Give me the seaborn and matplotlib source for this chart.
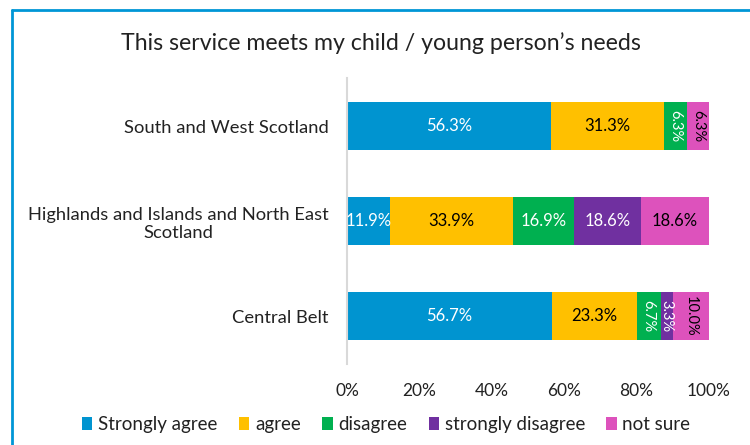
import matplotlib
matplotlib.use("Agg")
import matplotlib.pyplot as plt
from matplotlib.patches import Patch
from matplotlib.lines import Line2D
import seaborn as sns
import pandas as pd
import numpy as np

# Survey responses by region (percent of respondents)
regions = ["South and West Scotland",
           "Highlands and Islands and North East\nScotland",
           "Central Belt"]
responses = ["Strongly agree", "agree", "disagree", "strongly disagree", "not sure"]
strongly_agree = [56.3, 11.9, 56.7]
agree = [31.3, 33.9, 23.3]
disagree = [6.3, 16.9, 6.7]
strongly_disagree = [0.0, 18.6, 3.3]
not_sure = [6.3, 18.6, 10.0]

colors = ["#0094D0", "#FFC000", "#00B050", "#7030A0", "#DD52BC"]
text_colors = ["white", "black", "white", "white", "black"]

sns.set_theme(style="white")
plt.rcParams["font.family"] = ["Lato", "DejaVu Sans"]

series = [strongly_agree, agree, disagree, strongly_disagree, not_sure]
values = np.array(series)              # shape (responses, regions)
cumulative = np.cumsum(values, axis=0)
starts = cumulative - values

fig = plt.figure(figsize=(7.5, 4.45), dpi=100)
ax = fig.add_axes([0.4627, 0.183, 0.4826, 0.6406])

# Stacked bars: draw running totals from the last segment back to the first
for i in range(len(responses) - 1, -1, -1):
    df = pd.DataFrame({"region": regions, "total": cumulative[i]})
    sns.barplot(data=df, x="total", y="region", orient="h", color=colors[i],
                width=0.505, saturation=1, ax=ax, edgecolor="none")

# Segment value labels; narrow segments get vertical text
for i in range(len(responses)):
    for j in range(len(regions)):
        v = values[i, j]
        if v <= 0:
            continue
        x = starts[i, j] + v / 2
        narrow = v < 11
        ax.text(x, j, f"{v:.1f}%", ha="center", va="center",
                rotation=-90 if narrow else 0,
                color=text_colors[i], fontsize=10.5 if narrow else 12)

ax.set_xlim(0, 100)
ax.set_ylim(2.5, -0.5)
ax.set_xticks([0, 20, 40, 60, 80, 100])
ax.set_xticklabels([f"{t}%" for t in [0, 20, 40, 60, 80, 100]], fontsize=12.5,
                   color="#222222")
ax.tick_params(axis="x", pad=14, length=0)
ax.tick_params(axis="y", pad=13, length=0, labelsize=13.2, labelcolor="#222222")
for lbl in ax.get_yticklabels():
    lbl.set_multialignment("center")
ax.set_xlabel("")
ax.set_ylabel("")
for side in ["top", "right", "bottom"]:
    ax.spines[side].set_visible(False)
ax.spines["left"].set_color("#D9D9D9")
ax.spines["left"].set_linewidth(1.5)

fig.text(0.508, 0.903, "This service meets my child / young person\u2019s needs",
         ha="center", va="center", fontsize=16.7, color="#222222")

handles = [Patch(facecolor=c, edgecolor="none") for c in colors]
fig.legend(handles, responses, loc="center", bbox_to_anchor=(0.515, 0.045),
           ncol=5, frameon=False, fontsize=13.5, handlelength=0.55,
           handleheight=0.7, handletextpad=0.3, columnspacing=1.15,
           labelcolor="#222222")

# Blue frame along the top and left edges
fig.add_artist(Line2D([12 / 750, 1.0], [1 - 10 / 445, 1 - 10 / 445],
                      transform=fig.transFigure, color="#0096D6", lw=2))
fig.add_artist(Line2D([12 / 750, 12 / 750], [0.0, 1 - 10 / 445],
                      transform=fig.transFigure, color="#0096D6", lw=2))

fig.savefig("out.png", dpi=100)
